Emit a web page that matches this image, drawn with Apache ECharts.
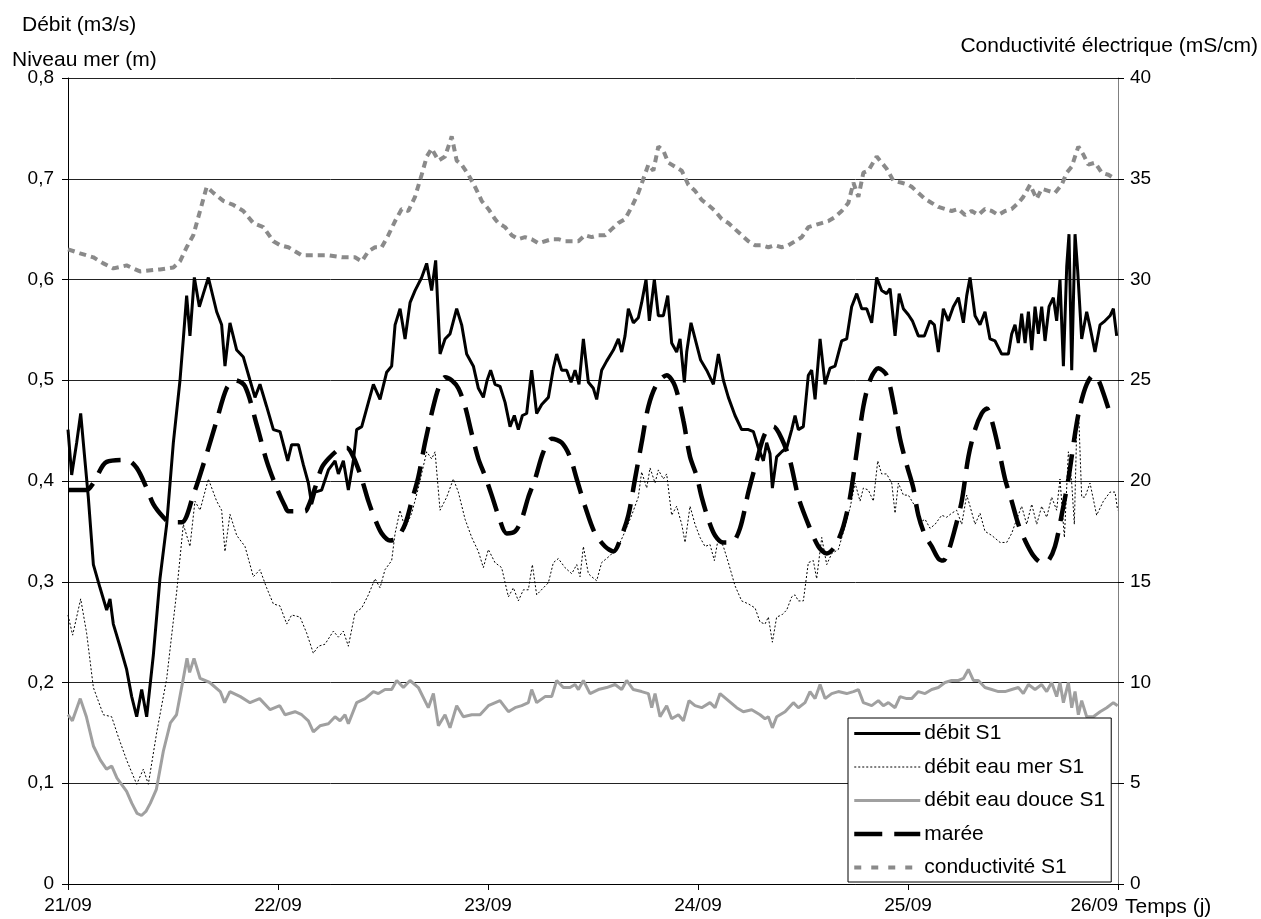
<!DOCTYPE html>
<html><head><meta charset="utf-8">
<script src="https://cdn.jsdelivr.net/npm/echarts@6/dist/echarts.min.js"></script>
<style>html,body{margin:0;padding:0;background:#fff}#c{width:1261px;height:919px}</style>
</head><body><div id="c"></div>
<script>
// time in hours from 21/09 00:00
const debitT = [0,0.42,0.99,1.45,1.94,2.32,2.9,3.66,4.42,4.8,5.18,5.94,6.7,7.28,7.85,8.42,8.99,9.75,10.51,11.28,12.04,12.8,13.18,13.56,13.94,14.44,15.01,15.47,16.04,16.99,17.56,17.94,18.51,19.28,20.04,20.8,21.37,21.94,22.7,23.47,24.23,
25.11,25.56,26.33,26.9,27.47,27.85,28.23,28.99,29.76,30.52,30.9,31.47,32.04,32.61,32.99,33.57,34.33,34.9,35.66,36.42,36.99,37.38,37.95,38.52,39.09,39.66,40.42,40.99,41.56,42.02,42.52,43.09,43.66,44.42,44.99,45.56,46.33,46.9,47.47,
47.9,48.3,48.8,49.37,49.95,50.52,51.01,51.47,51.93,52.42,52.99,53.56,54.14,54.9,55.47,55.85,56.42,56.99,57.49,57.95,58.4,58.9,59.47,60.04,60.42,60.99,61.56,62.33,62.9,63.28,63.66,64.04,64.61,65.18,65.56,66.06,66.44,67.01,67.47,68.04,68.54,68.99,69.56,69.95,70.44,70.71,71.2,71.85,
72.3,72.99,73.76,74.33,74.9,75.47,76.23,76.99,77.76,78.33,78.9,79.47,79.85,80.23,80.5,80.99,81.57,82.14,82.71,83.09,83.47,84.04,84.61,84.99,85.38,85.95,86.52,87.09,87.66,88.42,88.99,89.56,90.14,90.71,91.28,91.85,92.42,92.99,93.56,93.95,94.52,94.99,95.47,
96.04,96.5,97.18,97.87,98.52,99.01,99.47,100.04,100.61,101.18,101.76,102.33,102.71,103.09,103.66,104.23,104.8,105.37,105.95,106.71,107.47,107.85,108.23,108.61,108.99,109.38,109.76,110.14,110.52,110.9,111.28,111.66,112.12,112.61,112.99,113.37,113.76,114.14,114.4,114.71,115.09,115.39,115.85,116.42,116.8,117.37,117.95,118.52,119.09,119.47,119.85];
const debitV = [0.451,0.406,0.438,0.467,0.42,0.384,0.317,0.294,0.272,0.283,0.258,0.236,0.213,0.186,0.166,0.193,0.166,0.227,0.303,0.357,0.438,0.50,0.541,0.584,0.544,0.602,0.573,0.586,0.602,0.568,0.555,0.514,0.557,0.53,0.523,0.50,0.483,0.496,0.474,0.451,0.449,
0.42,0.436,0.436,0.416,0.398,0.377,0.389,0.391,0.411,0.42,0.407,0.42,0.391,0.42,0.451,0.454,0.478,0.496,0.481,0.508,0.514,0.555,0.571,0.541,0.577,0.589,0.602,0.616,0.589,0.619,0.526,0.541,0.546,0.571,0.555,0.526,0.514,0.492,0.483,
0.50,0.51,0.496,0.494,0.478,0.454,0.465,0.451,0.465,0.467,0.51,0.467,0.476,0.483,0.512,0.526,0.51,0.51,0.498,0.51,0.496,0.541,0.498,0.492,0.481,0.51,0.519,0.53,0.541,0.528,0.544,0.571,0.557,0.562,0.577,0.60,0.559,0.60,0.564,0.564,0.584,0.537,0.528,0.541,0.498,0.528,0.557,0.535,
0.52,0.51,0.496,0.526,0.50,0.483,0.465,0.451,0.451,0.449,0.433,0.42,0.438,0.427,0.393,0.424,0.429,0.433,0.451,0.465,0.451,0.454,0.505,0.51,0.481,0.541,0.496,0.512,0.514,0.539,0.541,0.573,0.586,0.571,0.571,0.557,0.602,0.589,0.586,0.591,0.544,0.586,0.571,
0.565,0.559,0.544,0.544,0.559,0.555,0.528,0.571,0.559,0.573,0.582,0.557,0.584,0.602,0.564,0.555,0.568,0.541,0.539,0.526,0.526,0.546,0.555,0.537,0.566,0.537,0.568,0.53,0.573,0.546,0.573,0.539,0.573,0.582,0.559,0.60,0.514,0.613,0.645,0.51,0.645,0.609,0.541,0.568,0.553,0.528,0.555,0.559,0.564,0.571,0.544];

const merT = [0,0.53,1.45,2.13,2.9,4.04,4.99,5.75,6.7,7.85,8.61,9.18,10.13,11.28,12.42,13.18,13.94,14.51,15.09,16.04,16.99,17.56,17.94,18.51,19.28,20.23,21.18,21.94,22.7,23.47,24.23,25.0,25.56,26.52,27.28,28.04,28.61,29.37,30.33,30.9,31.47,32.04,32.8,33.57,34.33,35.09,35.66,36.23,36.99,37.38,37.95,38.52,39.28,40.04,40.99,41.56,41.95,42.52,43.28,44.04,44.61,45.38,46.14,46.9,47.47,48.04,48.8,49.56,50.33,50.9,51.47,52.04,52.61,53.07,53.56,54.33,54.9,55.47,56.04,56.8,57.57,58.14,58.52,58.9,59.47,59.85,60.42,60.99,61.95,62.9,63.66,64.42,65.18,65.56,66.14,66.52,67.09,67.47,68.04,68.42,68.99,69.56,70.14,70.52,71.09,71.66,72.23,72.8,73.37,73.87,74.33,74.9,75.47,76.23,76.99,77.76,78.52,79.09,79.66,80.04,80.5,80.99,81.57,82.14,82.71,83.09,83.47,84.04,84.61,85.18,85.56,86.14,86.71,87.28,88.04,88.8,89.37,89.95,90.52,90.9,91.47,92.04,92.54,92.99,93.56,94.14,94.52,94.9,95.47,96.04,96.8,97.37,97.95,98.52,99.09,99.85,100.42,100.99,101.56,102.14,102.71,103.09,103.66,104.23,104.8,105.57,106.52,107.28,107.85,108.42,108.99,109.56,110.14,110.71,111.28,111.85,112.42,112.99,113.37,113.87,114.33,114.71,115.01,115.28,115.54,115.85,116.23,116.8,117.56,118.33,119.09,119.66,119.96];
const merV = [0.267,0.247,0.283,0.249,0.195,0.168,0.166,0.146,0.123,0.099,0.114,0.099,0.15,0.204,0.29,0.357,0.335,0.38,0.371,0.402,0.38,0.371,0.33,0.367,0.346,0.335,0.305,0.312,0.294,0.278,0.276,0.258,0.267,0.265,0.249,0.229,0.236,0.238,0.251,0.245,0.251,0.236,0.269,0.274,0.287,0.303,0.294,0.312,0.321,0.348,0.371,0.353,0.368,0.393,0.429,0.422,0.429,0.371,0.384,0.402,0.389,0.362,0.344,0.33,0.314,0.332,0.319,0.314,0.285,0.294,0.281,0.292,0.292,0.317,0.287,0.294,0.299,0.319,0.323,0.314,0.308,0.317,0.305,0.335,0.308,0.305,0.301,0.319,0.326,0.335,0.35,0.366,0.384,0.409,0.393,0.413,0.398,0.411,0.402,0.407,0.366,0.375,0.357,0.339,0.375,0.357,0.344,0.335,0.337,0.321,0.344,0.335,0.319,0.296,0.281,0.278,0.274,0.26,0.258,0.265,0.24,0.265,0.267,0.272,0.285,0.287,0.281,0.281,0.319,0.321,0.303,0.344,0.317,0.328,0.332,0.355,0.373,0.398,0.38,0.393,0.391,0.38,0.42,0.407,0.407,0.398,0.368,0.398,0.386,0.386,0.375,0.359,0.362,0.353,0.357,0.366,0.364,0.368,0.371,0.357,0.386,0.375,0.357,0.368,0.35,0.346,0.339,0.339,0.348,0.362,0.375,0.357,0.377,0.357,0.375,0.364,0.384,0.371,0.402,0.344,0.429,0.398,0.357,0.451,0.458,0.384,0.384,0.398,0.366,0.38,0.389,0.389,0.371];

const douceT = [0,0.5,1.4,2.1,2.9,3.7,4.4,5.0,5.6,6.7,7.3,7.9,8.4,8.9,9.4,10.1,10.9,11.7,12.4,13.2,13.6,13.9,14.4,15.1,16.2,17.4,17.9,18.5,19.7,20.8,21.9,23.1,24.2,24.8,25.95,26.71,27.47,28.04,28.8,29.76,30.52,31.09,31.66,32.04,32.99,33.95,34.9,35.47,36.23,36.99,37.57,38.33,39.09,40.04,41.18,41.76,42.33,43.09,43.66,44.42,45.18,46.14,47.09,48.04,49.37,50.33,51.09,51.85,52.61,52.99,53.56,54.52,55.28,55.85,56.61,57.37,57.95,58.33,58.9,59.66,60.61,61.56,62.52,63.28,63.85,64.61,65.56,66.33,66.71,67.09,67.66,68.42,68.99,69.76,70.33,70.97,71.66,72.42,73.37,73.95,74.52,75.47,76.42,77.18,78.14,79.09,79.66,80.04,80.5,80.99,81.95,82.9,83.47,84.23,84.8,85.38,85.95,86.52,87.28,88.04,88.99,89.76,90.33,90.9,91.85,92.61,93.18,93.76,94.52,95.09,95.85,96.42,97.18,97.95,98.71,99.47,100.23,100.99,101.76,102.33,102.9,103.47,104.04,104.8,105.57,106.33,107.09,107.85,108.61,109.18,109.76,110.52,111.28,111.85,112.42,112.99,113.37,113.76,114.33,114.71,115.09,115.47,115.85,116.42,117.18,117.95,118.71,119.47,119.96];
const douceV = [0.168,0.162,0.184,0.166,0.137,0.123,0.114,0.117,0.105,0.092,0.08,0.07,0.068,0.072,0.08,0.094,0.132,0.16,0.168,0.205,0.224,0.21,0.224,0.204,0.20,0.191,0.18,0.191,0.186,0.18,0.184,0.173,0.177,0.168,0.171,0.168,0.162,0.151,0.157,0.159,0.166,0.162,0.168,0.159,0.18,0.184,0.191,0.189,0.193,0.193,0.202,0.195,0.202,0.195,0.175,0.189,0.157,0.168,0.155,0.177,0.166,0.168,0.168,0.177,0.182,0.171,0.175,0.177,0.18,0.193,0.18,0.186,0.186,0.202,0.195,0.195,0.198,0.193,0.202,0.189,0.193,0.195,0.198,0.193,0.202,0.193,0.191,0.189,0.175,0.189,0.166,0.177,0.164,0.168,0.162,0.182,0.177,0.175,0.18,0.175,0.189,0.182,0.175,0.171,0.173,0.168,0.164,0.166,0.155,0.166,0.171,0.18,0.175,0.18,0.191,0.184,0.198,0.184,0.189,0.191,0.189,0.191,0.193,0.18,0.177,0.182,0.177,0.18,0.175,0.186,0.184,0.184,0.191,0.189,0.193,0.195,0.20,0.202,0.202,0.204,0.213,0.202,0.202,0.195,0.193,0.191,0.191,0.193,0.195,0.189,0.198,0.193,0.198,0.191,0.20,0.186,0.20,0.18,0.20,0.175,0.191,0.168,0.182,0.166,0.166,0.171,0.175,0.18,0.177];

const mareeT = [0,2.13,2.9,4.42,6.7,7.85,8.99,9.75,10.9,11.66,12.99,14.32,15.85,16.99,18.13,19.09,20.23,21.56,22.7,23.85,24.8,25.18,27.09,27.47,28.23,28.99,29.76,30.9,31.85,32.61,33.57,34.33,35.09,35.85,36.8,37.57,38.52,39.28,40.04,40.8,41.56,42.33,43.09,43.85,44.61,45.38,46.14,46.9,47.66,48.42,49.18,50.14,51.09,51.85,52.61,53.38,54.33,55.28,56.42,57.37,58.14,59.09,60.23,61.38,62.33,63.28,64.04,64.8,65.56,66.33,67.28,68.42,69.38,70.33,71.09,71.85,72.42,73.18,73.95,74.9,75.85,76.8,77.76,78.71,79.66,80.61,81.57,82.52,83.47,84.61,85.76,86.71,87.66,88.61,89.38,90.14,90.9,91.66,92.61,93.56,94.33,95.09,95.85,96.61,97.18,97.95,98.71,99.47,100.04,100.61,101.38,102.14,102.9,103.66,104.42,104.99,105.57,106.33,107.09,107.85,108.61,109.38,110.33,111.28,112.04,112.8,113.56,114.33,115.09,115.66,116.42,117.18,117.76,118.33,118.9];
const mareeV = [0.391,0.391,0.398,0.419,0.421,0.413,0.393,0.377,0.364,0.359,0.359,0.386,0.427,0.46,0.492,0.50,0.494,0.456,0.42,0.393,0.375,0.37,0.37,0.375,0.393,0.413,0.422,0.431,0.433,0.424,0.402,0.38,0.362,0.348,0.341,0.343,0.357,0.38,0.404,0.438,0.467,0.492,0.503,0.50,0.492,0.474,0.447,0.422,0.405,0.386,0.366,0.348,0.35,0.362,0.384,0.402,0.429,0.442,0.438,0.424,0.402,0.375,0.348,0.335,0.33,0.346,0.366,0.402,0.438,0.474,0.496,0.505,0.494,0.46,0.424,0.405,0.384,0.362,0.346,0.339,0.339,0.353,0.389,0.42,0.447,0.454,0.442,0.42,0.384,0.357,0.335,0.328,0.335,0.355,0.384,0.429,0.474,0.50,0.512,0.505,0.478,0.442,0.416,0.393,0.366,0.346,0.335,0.323,0.321,0.33,0.353,0.38,0.424,0.451,0.467,0.472,0.46,0.433,0.402,0.38,0.357,0.341,0.326,0.319,0.321,0.335,0.366,0.402,0.447,0.474,0.496,0.505,0.50,0.487,0.472];

const condT = [0,1.37,2.9,4.04,5.18,6.7,8.23,10.51,12.04,12.8,13.56,14.32,15.09,15.85,16.61,17.75,18.9,20.04,21.18,22.32,23.47,24.23,25.18,26.71,28.23,29.76,31.28,32.8,33.57,34.33,35.09,35.85,36.61,37.38,38.14,38.9,39.66,40.42,41.0,41.56,42.33,43.09,43.85,44.42,44.99,45.76,46.52,47.28,48.04,48.8,49.18,49.95,50.71,51.47,52.23,52.99,53.76,54.52,55.28,56.04,56.8,57.57,58.33,59.09,59.85,60.61,61.38,62.14,62.9,63.66,64.42,65.18,65.76,66.33,66.9,67.47,68.04,68.61,69.38,70.14,70.9,71.66,72.42,73.18,73.95,74.71,75.47,76.23,76.99,77.76,78.52,79.28,80.04,80.8,81.57,82.33,83.09,83.85,84.61,85.38,86.14,86.9,87.66,88.42,89.18,89.76,90.33,90.9,91.47,92.42,92.99,93.56,94.33,95.28,96.04,96.42,97.18,97.95,98.71,99.47,100.23,100.99,101.76,102.52,103.28,104.04,104.8,105.57,106.33,107.09,107.85,108.61,109.18,109.95,110.71,111.28,112.04,112.8,113.56,114.14,114.71,115.47,116.04,116.61,117.38,118.14,118.9,119.66];
const condV = [31.5,31.3,31.1,30.8,30.55,30.7,30.4,30.5,30.6,30.9,31.6,32.2,33.4,34.6,34.3,33.9,33.7,33.4,32.8,32.6,31.9,31.7,31.6,31.2,31.2,31.2,31.1,31.1,30.9,31.4,31.6,31.6,32.2,32.9,33.5,33.4,34.1,35.2,36.1,36.5,35.9,36.1,37.1,35.9,35.7,35.2,34.6,33.9,33.5,33.0,32.8,32.6,32.2,32.0,32.1,32.0,31.8,31.9,32.0,32.0,31.9,31.9,31.9,32.2,32.1,32.2,32.2,32.5,32.8,33.0,33.6,34.3,35.0,35.7,35.4,36.6,36.4,35.8,35.6,35.4,34.7,34.4,33.95,33.7,33.4,33.0,32.8,32.5,32.2,31.9,31.7,31.7,31.6,31.7,31.6,31.7,31.9,32.1,32.6,32.7,32.8,32.9,33.1,33.4,33.8,34.8,34.1,35.3,35.4,36.1,35.8,35.5,34.9,34.8,34.7,34.6,34.3,34.0,33.8,33.6,33.5,33.4,33.5,33.2,33.4,33.2,33.5,33.4,33.2,33.4,33.5,33.8,34.1,34.7,34.0,34.5,34.4,34.3,34.7,35.3,35.6,36.6,36.2,35.7,35.8,35.3,35.2,35.0];

const dayTicks = ['21/09','22/09','23/09','24/09','25/09','26/09'];

const zip = (t, v) => t.map((x, i) => [x, v[i]]);
const FONT = 'Liberation Sans, Arial, sans-serif';
const noSym = {color: 'rgba(0,0,0,0)', borderWidth: 0, opacity: 0};

const chart = echarts.init(document.getElementById('c'), null, {renderer: 'canvas'});
chart.setOption({
  animation: false,
  backgroundColor: '#fff',
  grid: {left: 68, right: 143, top: 78, bottom: 35, containLabel: false},
  xAxis: {
    type: 'value', min: 0, max: 120, interval: 24,
    axisLine: {lineStyle: {color: '#000', width: 1}},
    axisTick: {show: true, length: 6, lineStyle: {color: '#000'}},
    axisLabel: {margin: 12, color: '#000', fontFamily: FONT, fontSize: 19, alignMaxLabel: 'right',
      formatter: v => dayTicks[Math.round(v / 24)]},
    splitLine: {show: false}
  },
  yAxis: [{
    type: 'value', min: 0, max: 0.8, interval: 0.1, position: 'left',
    axisLine: {show: true, lineStyle: {color: '#000'}},
    axisTick: {show: true, length: 6, lineStyle: {color: '#000'}},
    axisLabel: {margin: 14, color: '#000', fontFamily: FONT, fontSize: 19,
      formatter: v => v === 0 ? '0' : v.toFixed(1).replace('.', ',')},
    splitLine: {show: true, lineStyle: {color: '#222', width: 1}}
  }, {
    type: 'value', min: 0, max: 40, interval: 5, position: 'right',
    axisLine: {show: true, lineStyle: {color: '#808080'}},
    axisTick: {show: true, length: 6, lineStyle: {color: '#000'}},
    axisLabel: {margin: 12, color: '#000', fontFamily: FONT, fontSize: 19},
    splitLine: {show: false}
  }],
  legend: {
    orient: 'vertical', left: 848, top: 718,
    itemWidth: 66, itemHeight: 20, itemGap: 12.5,
    padding: [5, 6, 4, 4],
    backgroundColor: '#fff', borderColor: '#000', borderWidth: 1, borderRadius: 0,
    itemStyle: noSym,
    textStyle: {color: '#000', fontFamily: FONT, fontSize: 21, lineHeight: 20, padding: [0,0,0,-1]},
    data: [
      {name: 'débit S1', itemStyle: noSym, lineStyle: {color: '#000', width: 3, type: 'solid'}},
      {name: 'débit eau mer S1', itemStyle: noSym, lineStyle: {color: '#000', width: 1, type: [2, 2]}},
      {name: 'débit eau douce S1', itemStyle: noSym, lineStyle: {color: '#a0a0a0', width: 3, type: 'solid'}},
      {name: 'marée', itemStyle: noSym, lineStyle: {color: '#000', width: 4.5, type: [28, 12]}},
      {name: 'conductivité S1', itemStyle: noSym, lineStyle: {color: '#8a8a8a', width: 4, type: [7, 10]}}
    ]
  },
  graphic: [
    {type: 'text', left: 22, top: 15, style: {text: 'Débit (m3/s)', font: '21px ' + FONT, fill: '#000'}},
    {type: 'text', left: 12, top: 50, style: {text: 'Niveau mer (m)', font: '21px ' + FONT, fill: '#000'}},
    {type: 'text', right: 3, top: 36, style: {text: 'Conductivité électrique (mS/cm)', font: '21px ' + FONT, fill: '#000'}},
    {type: 'text', left: 1125, top: 897, style: {text: 'Temps (j)', font: '21px ' + FONT, fill: '#000'}}
  ],
  series: [
    {name: 'débit S1', type: 'line', yAxisIndex: 0, symbol: 'none', data: zip(debitT, debitV),
      lineStyle: {color: '#000', width: 3}, itemStyle: {color: '#000'}, z: 5},
    {name: 'débit eau mer S1', type: 'line', yAxisIndex: 0, symbol: 'none', data: zip(merT, merV),
      lineStyle: {color: '#000', width: 1, type: [2, 2]}, itemStyle: {color: '#000'}, z: 3},
    {name: 'débit eau douce S1', type: 'line', yAxisIndex: 0, symbol: 'none', data: zip(douceT, douceV),
      lineStyle: {color: '#a0a0a0', width: 3}, itemStyle: {color: '#a0a0a0'}, z: 3},
    {name: 'marée', type: 'line', yAxisIndex: 0, symbol: 'none', smooth: 0.3, data: zip(mareeT, mareeV),
      lineStyle: {color: '#000', width: 4.5, type: [28, 12]}, itemStyle: {color: '#000'}, z: 4},
    {name: 'conductivité S1', type: 'line', yAxisIndex: 1, symbol: 'none', data: zip(condT, condV),
      lineStyle: {color: '#8a8a8a', width: 4, type: [7, 5]}, itemStyle: {color: '#8a8a8a'}, z: 3}
  ]
});
</script>
</body></html>
